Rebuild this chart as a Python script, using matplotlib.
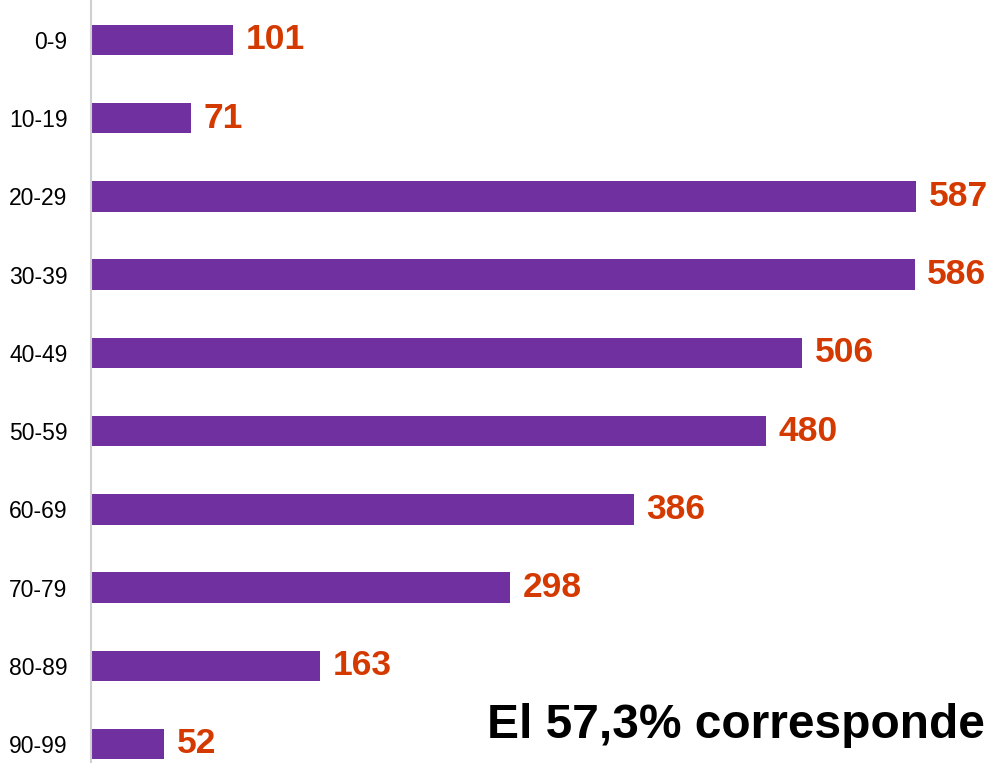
import matplotlib
matplotlib.use('Agg')
import matplotlib.pyplot as plt

groups = ['0-9', '10-19', '20-29', '30-39', '40-49', '50-59', '60-69', '70-79', '80-89', '90-99']
cases = [101, 71, 587, 586, 506, 480, 386, 298, 163, 52]
note = 'El 57,3% corresponde'

plt.rcParams['font.family'] = ['Liberation Sans', 'DejaVu Sans']

fig = plt.figure(figsize=(9.92, 7.63), dpi=100)
ax = fig.add_axes([91 / 992, 0, 1 - 91 / 992, 1])

ypos = list(range(len(groups)))
ax.barh(ypos, cases, height=0.39, color='#7030A0')
# value labels, squeezed a bit so the longest still fits on the right
for y, v in zip(ypos, cases):
    ax.text(v + 9, y, str(v), color='#D43A00', fontsize=25.5, fontweight='bold',
            va='center', ha='left')

ax.set_xlim(0, 641)
ax.set_ylim(9.243, -0.51)
ax.set_yticks(ypos)
ax.set_yticklabels(groups, fontsize=16.5)
ax.tick_params(axis='y', length=0, pad=17)
ax.set_xticks([])
for s in ['top', 'right', 'bottom']:
    ax.spines[s].set_visible(False)
ax.spines['left'].set_color('#D0D0D0')
ax.spines['left'].set_linewidth(1.5)

fig.text(985 / 992, 1 - 725 / 763, note, fontsize=34.5, fontweight='bold',
         color='black', ha='right', va='center')

fig.savefig('out.png', dpi=100)
